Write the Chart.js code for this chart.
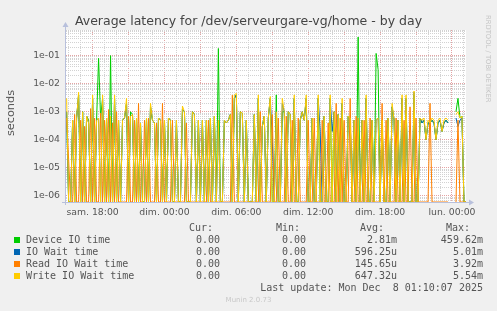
<!DOCTYPE html>
<html>
<head>
<meta charset="utf-8">
<script src="https://cdn.jsdelivr.net/npm/chart.js@4.4.1/dist/chart.umd.min.js"></script>
<style>
  html, body { margin: 0; padding: 0; background: #f0f0f0; }
  #wrap { position: relative; width: 497px; height: 311px; overflow: hidden;
          font-family: "DejaVu Sans", sans-serif; color: #444; }
  #c { position: absolute; left: 0; top: 0; }
  .t { position: absolute; white-space: pre; }
  .mono { font-family: "DejaVu Sans Mono", monospace; font-size: 10px; line-height: 12px; }
</style>
</head>
<body>
<div id="wrap">
  <canvas id="c" width="497" height="311"></canvas>
</div>
<script>
// samples every 10 minutes, first one sam. 15:50 (hours counted from sam. 00:00)
const START_HOUR = 15 + 50 / 60;
const STEP_HOUR = 10 / 60;
const Y_MIN = 6.1e-7;
const Y_MAX = 0.82;

// Device IO time (s)
const deviceIo = [
  1e-3,0,0,5e-4,0,6e-4,4e-3,0,1e-3,0,
  7e-4,5e-4,0,3e-3,0,5e-4,8e-2,6e-4,3e-3,0,
  6e-4,0,1e-1,0,3e-3,0,5e-4,0,5e-4,6e-4,
  2e-3,0,1e-3,8e-4,0,6e-4,0,4e-4,0,0,
  6e-4,0,1.5e-3,5e-4,4e-4,0,6e-4,5e-4,0,5e-4,
  0,6e-4,5e-4,0,0,5e-4,0,0,1.2e-3,1e-3,
  0,0,0,1e-3,8e-4,0,5e-4,0,5e-4,0,
  5e-4,0,6e-4,0,7e-4,0,1.8e-1,0,0,5e-4,
  4e-4,5e-4,8e-4,0,3e-3,4e-3,0,1e-3,9e-4,0,
  5e-4,0,0,0,8e-4,0,3e-3,0,3e-4,7e-4,
  0,6e-4,3e-3,0,0,4e-3,0,0,1e-3,1e-3,
  0,1e-3,8e-4,0,3e-3,0,0,5e-4,1e-3,5e-4,
  3e-3,0,0,6e-4,0,0,3e-3,0,0,7e-4,
  0,0,3e-3,0,1e-3,0,8e-4,0,2e-3,0,
  0,7e-4,6e-4,0,5e-4,0,4.6e-1,0,5e-4,0,
  3e-3,0,0,5e-4,0,1.2e-1,3.2e-2,0,5e-4,0,
  0,6e-4,0,1.5e-3,5e-4,0,5e-4,0,3e-3,0,
  3e-3,0,0,0,4e-3,0,0,6e-4,4e-4,5e-4,
  1e-4,4e-4,4e-4,5e-4,4e-4,1e-4,4e-4,5e-4,2e-4,4e-4,
  5e-4,4e-4,null,null,null,1e-3,3e-3,6e-4,7e-4,0,
  0
];

// IO Wait time (s)
const ioWait = [
  1e-3,0,0,5e-4,0,6e-4,4e-3,0,1e-3,0,
  7e-4,4e-4,0,3e-3,0,5e-4,6e-4,0,3e-3,0,
  6e-4,0,7e-4,0,3e-3,0,5e-4,0,5e-4,6e-4,
  2e-3,0,7e-4,8e-4,0,6e-4,0,4e-4,0,0,
  6e-4,0,1.5e-3,5e-4,4e-4,0,6e-4,5e-4,0,5e-4,
  0,6e-4,5e-4,0,0,5e-4,0,0,1.2e-3,1e-3,
  0,0,0,1e-3,8e-4,0,5e-4,0,5e-4,0,
  5e-4,0,6e-4,0,7e-4,0,5e-4,0,0,5e-4,
  4e-4,5e-4,8e-4,0,3e-3,4e-3,0,1e-3,9e-4,0,
  5e-4,0,0,0,8e-4,0,3e-3,0,3e-4,7e-4,
  0,6e-4,3e-3,1e-4,0,1e-3,0,0,2e-3,1e-3,
  0,1e-3,8e-4,0,3e-3,0,0,5e-4,1e-3,5e-4,
  3e-3,0,0,6e-4,0,0,3e-3,2e-4,0,7e-4,
  0,0,3e-3,2e-4,1e-3,0,8e-4,0,2e-3,0,
  0,7e-4,6e-4,0,5e-4,0,6e-4,0,5e-4,0,
  3e-3,0,0,5e-4,0,5e-4,6e-4,0,5e-4,0,
  0,6e-4,0,1.5e-3,5e-4,0,5e-4,0,3e-3,0,
  3e-3,0,0,0,5e-3,0,0,6e-4,4e-4,5e-4,
  1e-4,4e-4,4e-4,5e-4,4e-4,1e-4,4e-4,5e-4,2e-4,4e-4,
  5e-4,4e-4,null,null,null,6e-4,3e-4,5e-4,6e-4,0,
  0
];

// Read IO Wait time (s)
const readWait = [
  6e-4,2e-5,0,0,8e-4,0,0,5e-4,0,3e-4,
  0,0,1.3e-3,0,6e-4,0,0,9e-4,0,5e-4,
  0,1.2e-3,0,4e-4,0,1e-3,0,0,0,0,
  0,7e-4,0,0,5e-4,0,2e-3,0,0,5e-4,
  0,6e-4,0,0,0,4e-4,0,0,2e-3,0,
  0,0,0,5e-4,0,0,0,0,0,0,
  4e-4,0,0,0,0,0,0,0,0,0,
  0,5e-4,0,0,0,0,0,0,0,0,
  0,0,0,3.9e-3,0,0,0,0,0,0,
  0,0,0,0,0,0,0,1e-3,0,0,
  0,0,0,8e-4,0,0,6e-4,0,0,0,
  7e-4,0,0,5e-4,0,0,6e-4,0,0,0,
  0,5e-4,0,0,6e-4,0,0,0,5e-4,0,
  0,4e-4,0,0,0,2e-3,0,6e-4,0,5e-4,
  0,0,3e-3,0,0,7e-4,0,0,0,5e-4,
  0,0,6e-4,0,0,0,0,0,2e-3,0,
  5e-4,0,0,0,0,6e-4,0,0,0,5e-4,
  0,0,1.5e-3,0,0,6e-4,0,0,0,0,
  0,0,2e-3,0,0,0,0,0,0,0,
  0,0,null,null,null,0,5e-4,0,0,0,
  0
];

// Write IO Wait time (s)
const writeWait = [
  3e-3,0,0,5e-4,0,6e-4,5e-3,0,1e-3,0,
  7e-4,4e-4,0,4e-3,0,5e-4,6e-4,0,4e-3,0,
  6e-4,0,7e-4,0,4e-3,0,5e-4,0,5e-4,6e-4,
  3e-3,0,7e-4,8e-4,0,6e-4,0,4e-4,0,0,
  6e-4,0,2e-3,5e-4,4e-4,0,6e-4,5e-4,0,5e-4,
  0,6e-4,5e-4,0,0,5e-4,0,0,1.6e-3,1e-3,
  0,0,0,1e-3,8e-4,0,5e-4,0,5e-4,0,
  5e-4,0,6e-4,0,7e-4,0,5e-4,0,0,5e-4,
  4e-4,5e-4,8e-4,0,4e-3,4.5e-3,0,1e-3,9e-4,0,
  5e-4,0,0,0,8e-4,0,4e-3,0,3e-4,7e-4,
  0,6e-4,3.5e-3,0,0,1e-3,0,0,3e-3,1e-3,
  0,1e-3,8e-4,0,4e-3,0,0,5e-4,1e-3,5e-4,
  4e-3,0,0,6e-4,0,0,4e-3,0,0,7e-4,
  0,0,4e-3,0,1e-3,0,8e-4,0,3e-3,0,
  0,7e-4,6e-4,0,5e-4,0,6e-4,0,5e-4,0,
  4e-3,0,0,5e-4,0,5e-4,6e-4,0,5e-4,0,
  0,6e-4,0,2e-3,5e-4,0,5e-4,0,4e-3,0,
  4e-3,0,0,0,5.5e-3,0,0,6e-4,5e-4,6e-4,
  1e-4,5e-4,4e-4,6e-4,5e-4,1e-4,5e-4,6e-4,2e-4,5e-4,
  6e-4,5e-4,null,null,null,8e-4,1e-3,6e-4,7e-4,0,
  0
];

const seriesNames = ['Device IO time', 'IO Wait time', 'Read IO Wait time', 'Write IO Wait time'];
const seriesColors = ['#00cc00', '#0066b3', '#ff8000', '#ffcc00'];
const curText = ['0.00', '0.00', '0.00', '0.00'];
const minText = ['0.00', '0.00', '0.00', '0.00'];
const avgText = ['2.81m', '596.25u', '145.65u', '647.32u'];
const maxText = ['459.62m', '5.01m', '3.92m', '5.54m'];

const xTickHours = [18, 24, 30, 36, 42, 48];
const xTickLabels = ['sam. 18:00', 'dim. 00:00', 'dim. 06:00', 'dim. 12:00', 'dim. 18:00', 'lun. 00:00'];
const yTickValues = [1e-6, 1e-5, 1e-4, 1e-3, 1e-2, 1e-1];
const yTickLabels = ['1e-06', '1e-05', '1e-04', '1e-03', '1e-02', '1e-01'];

const wrap = document.getElementById('wrap');
function addText(txt, css, cls) {
  const d = document.createElement('div');
  d.className = 't' + (cls ? ' ' + cls : '');
  d.textContent = txt;
  d.style.cssText += css;
  wrap.appendChild(d);
  return d;
}

// title, axis title, side note
addText('Average latency for /dev/serveurgare-vg/home - by day',
  'left:0;width:497px;text-align:center;top:14px;font-size:12.5px;line-height:14px;color:#444;');
addText('seconds',
  'left:-19px;top:106px;width:60px;text-align:center;font-size:11.3px;line-height:14px;color:#555;transform:rotate(-90deg);');
addText('RRDTOOL / TOBI OETIKER',
  'left:484px;top:15px;font-size:6.8px;line-height:7px;color:#c4c4c4;writing-mode:vertical-rl;');

// legend table
function rightCol(txt, right, top) {
  addText(txt, 'right:' + (497 - right) + 'px;top:' + top + 'px;text-align:right;color:#555;', 'mono');
}
rightCol('Cur:', 213, 221.5);
rightCol('Min:', 300, 221.5);
rightCol('Avg:', 384, 221.5);
rightCol('Max:', 470, 221.5);
seriesNames.forEach((name, i) => {
  const top = 233.5 + i * 12;
  const sq = document.createElement('div');
  sq.style.cssText = 'position:absolute;left:14px;top:' + (237 + i * 12) + 'px;width:6px;height:6px;background:' + seriesColors[i] + ';';
  wrap.appendChild(sq);
  addText(name, 'left:26px;top:' + top + 'px;color:#555;', 'mono');
  rightCol(curText[i], 220, top);
  rightCol(minText[i], 306, top);
  rightCol(avgText[i], 397, top);
  rightCol(maxText[i], 483, top);
});
rightCol('Last update: Mon Dec  8 01:10:07 2025', 483, 281.5);
addText('Munin 2.0.73', 'left:0;width:497px;text-align:center;top:296px;font-size:7px;line-height:8px;color:#c8c8c8;');

// a log axis cannot show 0: like rrdtool, zero samples sit on the bottom edge
function toPoints(vals) {
  return vals.map((v, i) => ({ x: START_HOUR + i * STEP_HOUR, y: v === 0 ? Y_MIN : v }));
}
const seriesData = [deviceIo, ioWait, readWait, writeWait];

const isMajorY = v => yTickValues.some(m => Math.abs(v / m - 1) < 1e-6);

const frame = {
  id: 'frame',
  beforeDraw(chart) {
    const { ctx, chartArea: a } = chart;
    ctx.save();
    ctx.fillStyle = '#ffffff';
    ctx.fillRect(a.left, a.top, a.right - a.left, a.bottom - a.top);
    ctx.restore();
  },
  afterDraw(chart) {
    const { ctx, chartArea: a } = chart;
    ctx.save();
    ctx.strokeStyle = '#b8c0dc';
    ctx.fillStyle = '#b8c0dc';
    ctx.lineWidth = 1;
    ctx.beginPath();
    ctx.moveTo(a.left - 0.5, a.bottom + 3);
    ctx.lineTo(a.left - 0.5, a.top - 4);
    ctx.moveTo(a.left - 4, a.bottom + 0.5);
    ctx.lineTo(a.right + 4, a.bottom + 0.5);
    ctx.stroke();
    ctx.beginPath();
    ctx.moveTo(a.left - 3.5, a.top - 3);
    ctx.lineTo(a.left - 0.5, a.top - 8);
    ctx.lineTo(a.left + 2.5, a.top - 3);
    ctx.fill();
    ctx.beginPath();
    ctx.moveTo(a.right + 3, a.bottom - 2.5);
    ctx.lineTo(a.right + 8, a.bottom + 0.5);
    ctx.lineTo(a.right + 3, a.bottom + 3.5);
    ctx.fill();
    ctx.restore();
  }
};

const tickFont = { family: 'DejaVu Sans', size: 9.3 };

new Chart(document.getElementById('c'), {
  type: 'line',
  data: {
    datasets: seriesNames.map((name, i) => ({
      label: name,
      data: toPoints(seriesData[i]),
      borderColor: seriesColors[i],
      backgroundColor: seriesColors[i],
      borderWidth: 1,
      pointRadius: 0,
      tension: 0,
      spanGaps: false,
      fill: false,
      order: 4 - i   // write drawn last, on top
    }))
  },
  options: {
    responsive: false,
    animation: false,
    events: [],
    layout: { padding: { left: 0, top: 30, right: 31, bottom: 89 } },
    plugins: { legend: { display: false }, tooltip: { enabled: false } },
    scales: {
      x: {
        type: 'linear',
        min: 15.78,
        max: 49.17,
        afterBuildTicks: s => {
          const t = [];
          for (let h = 16; h <= 49; h++) t.push({ value: h });
          s.ticks = t;
        },
        afterFit: s => { s.height = 20; },
        ticks: {
          autoSkip: false,
          maxRotation: 0,
          padding: 5,
          font: tickFont,
          color: '#555',
          callback: v => {
            const k = xTickHours.indexOf(v);
            return k >= 0 ? xTickLabels[k] : '';
          }
        },
        grid: {
          drawTicks: false,
          color: c => (c.tick && c.tick.value % 3 === 0) ? '#e4a3a3' : '#d2d2d2'
        },
        border: { display: false, dash: [1, 1] }
      },
      y: {
        type: 'logarithmic',
        min: Y_MIN,
        max: Y_MAX,
        afterBuildTicks: s => {
          const t = [];
          for (let e = -7; e <= 0; e++) {
            for (let k = 1; k <= 9; k++) {
              const v = k * Math.pow(10, e);
              if (v >= s.min && v <= s.max) t.push({ value: v });
            }
          }
          s.ticks = t;
        },
        afterFit: s => { s.width = 66; },
        ticks: {
          autoSkip: false,
          padding: 6,
          font: tickFont,
          color: '#555',
          callback: v => {
            const k = yTickValues.findIndex(m => Math.abs(v / m - 1) < 1e-6);
            return k >= 0 ? yTickLabels[k] : '';
          }
        },
        grid: {
          drawTicks: false,
          color: c => (c.tick && isMajorY(c.tick.value)) ? '#e4a3a3' : '#d2d2d2'
        },
        border: { display: false, dash: [1, 1] }
      }
    }
  },
  plugins: [frame]
});
</script>
</body>
</html>
